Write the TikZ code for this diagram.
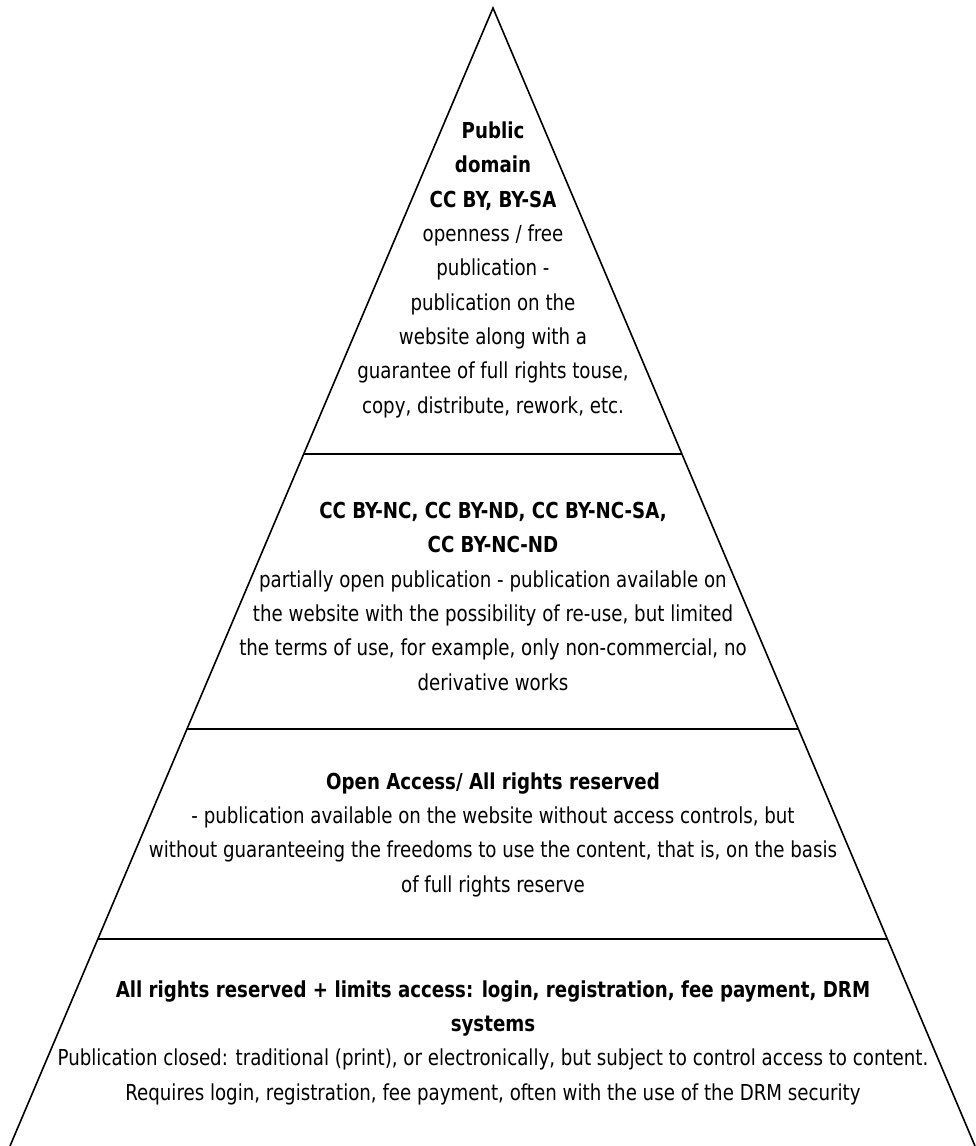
\documentclass[tikz,border=0pt]{standalone}
\usepackage{fontspec}
\setmainfont[FakeStretch=0.92]{DejaVu Sans Condensed}
\usetikzlibrary{calc}

\begin{document}
\begin{tikzpicture}[x=1pt,y=-1pt,
  level/.style={align=center,inner sep=0pt,anchor=base,
    font=\fontsize{22}{34.3}\selectfont}]
  \useasboundingbox (0,0) rectangle (975,1146);
  % pyramid outline
  \coordinate (apex) at (493,8);
  \coordinate (lft) at (10,1146);
  \coordinate (rgt) at (975,1146);
  \draw[line width=1.6pt] (lft) -- (apex) -- (rgt);
  \foreach \f/\n in {0.392/a,0.6336/b,0.818/c}
     {\draw[line width=1.4pt] ($(apex)!\f!(lft)$) coordinate (\n l) -- ($(apex)!\f!(rgt)$) coordinate (\n r);}
  % levels (anchored at the last line)
  \node[level] (free) at (493,413) {\textbf{Public}\\\textbf{domain}\\\textbf{CC BY, BY-SA}\\
    openness / free\\publication -\\publication on the\\website along with a\\
    guarantee of full rights touse,\\copy, distribute, rework, etc.};
  \node[level] (partial) at (493,690) {\textbf{CC BY-NC, CC BY-ND, CC BY-NC-SA,}\\\textbf{CC BY-NC-ND}\\
    partially open publication - publication available on\\
    the website with the possibility of re-use, but limited\\
    the terms of use, for example, only non-commercial, no\\derivative works};
  \node[level] (open) at (493,892) {\textbf{Open Access/ All rights reserved}\\
    - publication available on the website without access controls, but\\
    without guaranteeing the freedoms to use the content, that is, on the basis\\
    of full rights reserve};
  \node[level] (closed) at (493,1100) {\textbf{All rights reserved + limits access: login, registration, fee payment, DRM}\\
    \textbf{systems}\\
    Publication closed: traditional (print), or electronically, but subject to control access to content.\\
    Requires login, registration, fee payment, often with the use of the DRM security};
\end{tikzpicture}
\end{document}
